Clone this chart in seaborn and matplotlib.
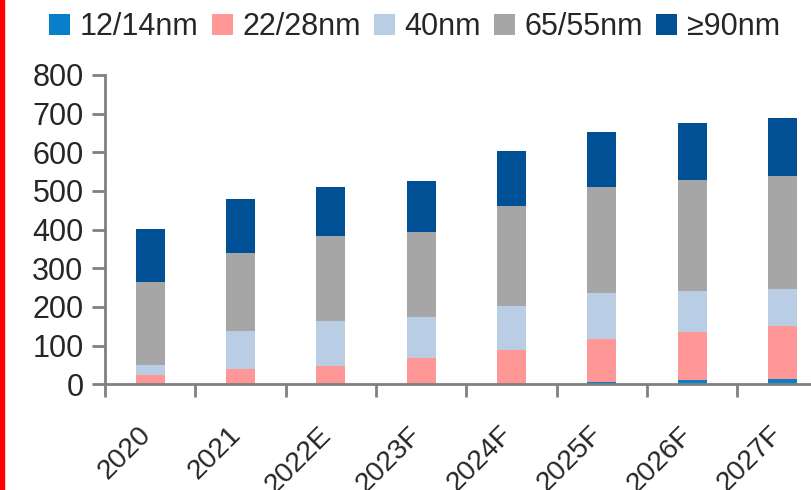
import numpy as np
import pandas as pd
import matplotlib
matplotlib.use("Agg")
import matplotlib.pyplot as plt
import matplotlib.transforms as mtransforms
from matplotlib.patches import Rectangle, Patch
import seaborn as sns

years = ["2020", "2021", "2022E", "2023F", "2024F", "2025F", "2026F", "2027F"]
series_names = ["12/14nm", "22/28nm", "40nm", "65/55nm", "≥90nm"]
nm_12_14 = [0, 0, 0, 0, 0, 6, 11, 14]
nm_22_28 = [24, 40, 48, 68, 89, 111, 124, 137]
nm_40 = [26, 98, 116, 106, 114, 119, 107, 96]
nm_65_55 = [215, 202, 220, 220, 259, 274, 287, 292]
nm_90_up = [137, 139, 127, 132, 142, 142, 148, 150]
colors = ["#0A7FC9", "#FF9797", "#B9CDE5", "#A6A6A6", "#005096"]

sns.set_theme(style="white")
plt.rcParams["font.family"] = ["Liberation Sans", "DejaVu Sans"]

values = np.array([nm_12_14, nm_22_28, nm_40, nm_65_55, nm_90_up], dtype=float)
cumulative = values.cumsum(axis=0)

fig = plt.figure(figsize=(8.11, 4.90), dpi=100)
ax = fig.add_axes([105 / 811, 105.7 / 490, 722.6 / 811, 309.3 / 490])

# stacked bars: draw tallest cumulative layer first, smaller ones on top
for i in range(len(series_names) - 1, -1, -1):
    df = pd.DataFrame({"year": years, "value": cumulative[i]})
    sns.barplot(data=df, x="year", y="value", color=colors[i], saturation=1,
                width=0.32, ax=ax, edgecolor="none", linewidth=0, errorbar=None)

ax.set_xlim(-0.5, 7.5)
ax.set_ylim(0, 800)
ax.set_yticks(range(0, 801, 100))
ax.set_xlabel("")
ax.set_ylabel("")

# category boundary ticks on x axis, slanted year labels between them
ax.set_xticks(np.arange(-0.5, 7.6, 1.0), minor=False)
ax.set_xticklabels([])
ax.set_xticks(np.arange(0, 8), minor=True)
ax.set_xticklabels(years, minor=True, rotation=45, ha="right",
                   rotation_mode="anchor", fontsize=20.4)
ax.tick_params(axis="x", which="minor", length=0, pad=26.9)
ax.tick_params(axis="x", which="major", length=9, width=2, color="#808080",
               direction="out", bottom=True)
ax.tick_params(axis="y", length=9.5, width=2, color="#808080", labelsize=22,
               left=True, pad=6)

# nudge the slanted year labels to the left
shift = mtransforms.ScaledTranslation(-12.8 / 100, 0, fig.dpi_scale_trans)
for lbl in ax.get_xticklabels(minor=True):
    lbl.set_transform(lbl.get_transform() + shift)

for side in ["top", "right"]:
    ax.spines[side].set_visible(False)
for side in ["left", "bottom"]:
    ax.spines[side].set_color("#808080")
    ax.spines[side].set_linewidth(2)

handles = [Patch(facecolor=c, edgecolor="none") for c in colors]
fig.legend(handles, series_names, loc="upper left", bbox_to_anchor=(37 / 811, 1.0),
           ncol=5, frameon=False, fontsize=22, handlelength=0.69, handleheight=0.69,
           handletextpad=0.32, columnspacing=0.42, borderaxespad=0.0)

fig.add_artist(Rectangle((0, 0), 4 / 811, 1, transform=fig.transFigure,
                         color="red", zorder=10))

fig.savefig("out.png", dpi=100, facecolor="white")
